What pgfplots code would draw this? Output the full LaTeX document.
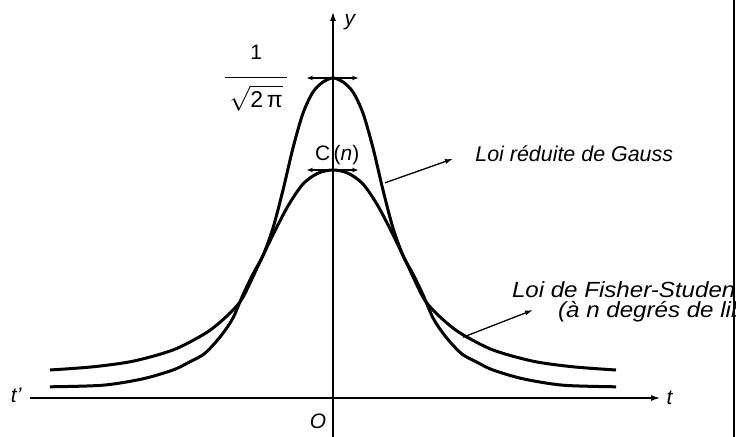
\documentclass[border=0pt]{standalone}
\usepackage{pgfplots}
\pgfplotsset{compat=1.18}
\usepackage{fontspec}
\setmainfont{Liberation Sans}
\usetikzlibrary{arrows.meta}

% densities (t, y); tails do not reach the axis
\pgfplotstableread{
t y
-4.717 0.014
-3.833 0.016
-3.167 0.024
-2.667 0.035
-2.417 0.044
-2.167 0.054
-2.000 0.066
-1.833 0.081
-1.667 0.100
-1.500 0.129
-1.333 0.155
-1.167 0.178
-1.000 0.2125
-0.833 0.260
-0.667 0.3125
-0.500 0.356
-0.333 0.3825
-0.167 0.395
0 0.400
0.167 0.395
0.333 0.3825
0.500 0.356
0.667 0.3125
0.833 0.260
1.000 0.2125
1.167 0.178
1.333 0.155
1.500 0.129
1.667 0.100
1.833 0.081
2.000 0.066
2.167 0.054
2.417 0.044
2.667 0.035
3.167 0.024
3.833 0.016
4.717 0.014
}\gauss
\pgfplotstableread{
t y
-4.717 0.035
-4.000 0.039
-3.333 0.046
-2.667 0.060
-2.167 0.079
-1.917 0.0925
-1.667 0.110
-1.500 0.126
-1.250 0.165
-1.000 0.204
-0.750 0.240
-0.500 0.2675
-0.250 0.281
0 0.285
0.250 0.281
0.500 0.2675
0.750 0.240
1.000 0.204
1.250 0.165
1.500 0.126
1.667 0.110
1.917 0.0925
2.167 0.079
2.667 0.060
3.333 0.046
4.000 0.039
4.717 0.035
}\student

\begin{document}
\begin{tikzpicture}[font=\fontsize{21}{25}\selectfont]
\path[use as bounding box] (-333bp,-39bp) rectangle (410bp,398bp);
\clip (-333bp,-40bp) rectangle (402.5bp,399bp);
\begin{axis}[
    at={(0,0)}, anchor=origin,
    x=60bp, y=800bp,
    xmin=-5.05, xmax=5.45, ymin=-0.06, ymax=0.4825,
    enlargelimits=false,
    axis lines=middle,
    axis line style={line width=1.2bp, -{Latex[length=9bp,width=6bp]}},
    xtick=\empty, ytick=\empty,
    clip=false]
\addplot[smooth, line width=3bp, black] table[x=t, y=y] {\gauss};
\addplot[smooth, line width=3bp, black] table[x=t, y=y] {\student};
% peak markers
\draw[line width=1.2bp, {Stealth[length=6bp]}-{Stealth[length=6bp]}] (axis cs:-0.433,0.400) -- (axis cs:0.417,0.400);
\draw[line width=1.2bp, {Stealth[length=6bp]}-{Stealth[length=6bp]}] (axis cs:-0.433,0.285) -- (axis cs:0.417,0.285);
% labels
\node at (axis cs:-1.28,0.432) {1};
\draw[line width=1.3bp] (axis cs:-1.80,0.401) -- (axis cs:-0.76,0.401);
\node[font=\fontsize{23}{27}\selectfont] at (axis cs:-1.28,0.375) {$\sqrt{\mbox{2\,π}}$};
\node at (axis cs:0.07,0.304) {C\,(\textit{n})};
\node at (axis cs:0.28,0.47) {\itshape y};
\node[anchor=west] at (axis cs:5.50,0) {\itshape t};
\node at (axis cs:-5.28,0.003) {\itshape t'};
\node at (axis cs:-0.25,-0.029) {\itshape O};
\draw[line width=1.3bp, -{Latex[length=8bp,width=5bp]}] (axis cs:0.867,0.269) -- (axis cs:2.0,0.299);
\node[anchor=base west, inner sep=0pt, font=\fontsize{21.5}{26}\selectfont] at (axis cs:2.37,0.296) {\itshape Loi réduite de Gauss};
\draw[line width=1.3bp, -{Latex[length=8bp,width=5bp]}] (axis cs:2.167,0.076) -- (axis cs:3.333,0.110);
\node[anchor=base west, inner sep=0pt, font=\fontsize{22}{26}\selectfont] at (axis cs:2.98,0.126) {\scalebox{1.1}[1]{\itshape Loi de Fisher-Student}};
\node[anchor=base west, inner sep=0pt, font=\fontsize{22}{26}\selectfont] at (axis cs:3.75,0.100) {\scalebox{1.1}[1]{\itshape (à n degrés de liberté)}};
\end{axis}
\draw[line width=1.6bp] (401bp,-40bp) -- (401bp,399bp);
\end{tikzpicture}
\end{document}
